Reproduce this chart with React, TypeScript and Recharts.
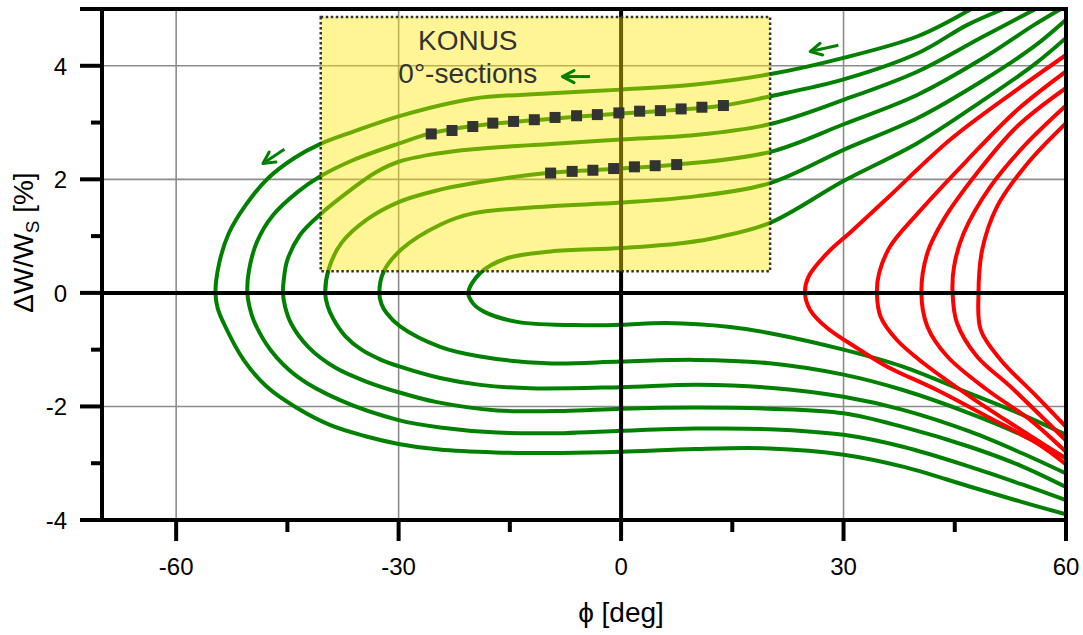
import {
  ComposedChart,
  Line,
  ReferenceArea,
  ReferenceLine,
  Scatter,
  XAxis,
  YAxis,
} from "recharts";

type Pt = [number, number];

// Dark green family, outermost first. Each curve runs from the upper right,
// round its turning point on the zero line, and out to the lower right.
const green1: Pt[] = [
  [47.2, 5.0], [40, 4.52], [30, 4.14], [20, 3.85], [10, 3.67], [0, 3.58],
  [-10, 3.51], [-20, 3.42], [-30, 3.11], [-36.1, 2.84], [-40.6, 2.62],
  [-44, 2.38], [-47.6, 2.02], [-50.6, 1.55], [-52.9, 1.05], [-54.2, 0.52],
  [-54.7, 0], [-54.4, -0.27], [-53.6, -0.53], [-50.9, -1.18], [-47.8, -1.65],
  [-43.8, -2.02], [-39.2, -2.33], [-34.6, -2.52], [-30, -2.66], [-24.5, -2.76],
  [-17, -2.81], [-8, -2.82], [0, -2.8], [10, -2.75], [20, -2.74], [30, -2.85],
  [38, -3.06], [47, -3.41], [54, -3.68], [60, -3.9],
];
const green2: Pt[] = [
  [51.6, 5.0], [46.7, 4.72], [40, 4.22], [30, 3.76], [20, 3.46], [13.8, 3.3],
  [5, 3.2], [0, 3.16], [-10, 3.06], [-20, 2.94], [-25.7, 2.81], [-30, 2.63],
  [-36.1, 2.34], [-40.6, 2.05], [-43.6, 1.78], [-47, 1.36], [-49.1, 0.9],
  [-50.2, 0.38], [-50.4, 0], [-50.1, -0.25], [-49.5, -0.5], [-47.3, -1.0],
  [-43.7, -1.47], [-37.9, -1.89], [-30, -2.24], [-24.4, -2.37],
  [-16.7, -2.46], [-7.7, -2.47], [0, -2.43], [10, -2.39], [20, -2.4],
  [30, -2.5], [38, -2.71], [47, -3.06], [54, -3.37], [60, -3.65],
];
const green3: Pt[] = [
  [55.9, 5.0], [48.9, 4.52], [40, 3.9], [30, 3.4], [20, 2.97], [10, 2.78],
  [0, 2.7], [-10, 2.62], [-20, 2.53], [-25, 2.45], [-30, 2.31],
  [-33, 2.13], [-36.1, 1.85], [-40.6, 1.38], [-43.3, 1.02], [-45.0, 0.58],
  [-45.5, 0.22], [-45.6, 0], [-45.3, -0.25], [-44.5, -0.54], [-42.2, -0.95],
  [-38.5, -1.32], [-34, -1.58], [-30, -1.75], [-25, -1.92], [-16.7, -2.07],
  [-7.7, -2.08], [0, -2.04], [10, -2.02], [20, -2.04], [30, -2.12],
  [38, -2.36], [47, -2.71], [54, -3.05], [60, -3.42],
];
const green4: Pt[] = [
  [59.3, 5.0], [55.7, 4.72], [48.9, 4.14], [40, 3.49], [30, 2.97], [20, 2.48],
  [7.6, 2.26], [0, 2.19], [-10, 2.11], [-20, 1.93], [-25, 1.8], [-30, 1.6],
  [-34.3, 1.29], [-37.7, 0.88], [-39.4, 0.43], [-39.9, 0], [-39.6, -0.22],
  [-38.8, -0.46], [-37.2, -0.76], [-35, -1.0], [-32.5, -1.17], [-29.8, -1.3],
  [-24.4, -1.5], [-19, -1.62], [-12.2, -1.68], [0, -1.66], [10.3, -1.62],
  [20, -1.67], [30, -1.83], [38, -2.06], [47, -2.44], [54, -2.82],
  [60, -3.18],
];
const green5: Pt[] = [
  [60, 4.81], [55.7, 4.34], [48.9, 3.75], [40, 3.08], [30, 2.52], [20, 1.93],
  [10, 1.7], [0, 1.59], [-10, 1.52], [-20, 1.4], [-24.4, 1.2],
  [-29.5, 0.78], [-32.0, 0.38], [-32.6, 0], [-32.3, -0.2], [-31.6, -0.36],
  [-29.8, -0.59], [-24.4, -0.95], [-19, -1.12], [-10, -1.24], [0, -1.21],
  [10, -1.18], [20, -1.24], [30, -1.44], [38, -1.71], [47, -2.12],
  [54, -2.5], [60, -2.91],
];
const green6: Pt[] = [
  [60, 4.49], [55.7, 4.02], [48.9, 3.4], [40, 2.64], [30, 1.97], [20, 1.23],
  [13.4, 0.99], [8.4, 0.88], [0, 0.79], [-9.5, 0.73], [-15.4, 0.61],
  [-19, 0.35], [-20.6, 0], [-20, -0.18], [-18.5, -0.33], [-14, -0.51],
  [-5, -0.57], [0, -0.56], [6.2, -0.53], [14.7, -0.6], [20.1, -0.71],
  [30, -1.0], [38, -1.3], [47, -1.77], [54, -2.14], [60, -2.5],
];

// Red family, leftmost turning point first.
const red1: Pt[] = [
  [60, 4.19], [53.4, 3.58], [44.4, 2.7], [36, 1.68], [31.2, 1.1],
  [27.8, 0.7], [25.3, 0.29], [24.8, 0], [25.5, -0.3], [27.8, -0.62],
  [31.8, -0.97], [35.9, -1.3], [42.6, -1.71], [49.4, -2.18], [56.1, -2.65],
  [60, -3.02],
];
const red2: Pt[] = [
  [60, 3.9], [53.4, 3.22], [46.7, 2.34], [40, 1.4], [36.3, 0.82],
  [34.8, 0.35], [34.5, 0], [35, -0.42], [37.2, -0.83], [40.8, -1.24],
  [47.1, -1.83], [53.9, -2.41], [60, -2.92],
];
const red3: Pt[] = [
  [60, 3.61], [53.4, 2.93], [48, 2.11], [43.5, 1.29], [41.3, 0.7],
  [40.5, 0], [41.3, -0.59], [44, -1.12], [49.4, -1.71], [55.2, -2.24],
  [60, -2.8],
];
const red4: Pt[] = [
  [60, 3.3], [54.3, 2.58], [49.8, 1.87], [46.2, 1.05], [44.9, 0.46],
  [44.7, 0], [45.3, -0.53], [48, -1.12], [52.5, -1.65], [60, -2.6],
];
const red5: Pt[] = [
  [60, 2.99], [54.8, 2.28], [50.7, 1.52], [48.7, 0.76], [48.2, 0],
  [48.5, -0.65], [51.2, -1.18], [56.1, -1.83], [60, -2.36],
];

// measured 0°-section points
const sectionUpper: Pt[] = [
  [-25.6, 2.8], [-22.8, 2.86], [-20.0, 2.93], [-17.3, 2.99], [-14.5, 3.02],
  [-11.7, 3.05], [-8.9, 3.09], [-6.0, 3.12], [-3.2, 3.14], [-0.3, 3.17],
  [2.5, 3.2], [5.3, 3.21], [8.1, 3.24], [10.9, 3.27], [13.8, 3.3],
];
const sectionLower: Pt[] = [
  [-9.5, 2.11], [-6.6, 2.14], [-3.8, 2.16], [-1.0, 2.19], [1.8, 2.22],
  [4.6, 2.24], [7.5, 2.26],
];

// direction arrows: tail, tip
const arrowLeft: Pt[] = [[-45.4, 2.53], [-48.3, 2.28]];
const arrowMid: Pt[] = [[-4.2, 3.81], [-7.9, 3.81]];
const arrowRight: Pt[] = [[29.3, 4.36], [25.5, 4.25]];

// KONUS window: phi from, phi to, dW from, dW to
const konusWindow = [-40.5, 20.1, 0.38, 4.86];

const xTicks = [-60, -45, -30, -15, 0, 15, 30, 45, 60];
const yTicks = [-4, -3, -2, -1, 0, 1, 2, 3, 4, 5];
const gridX = [-60, -30, 30];
const gridY = [-2, 2, 4];

const GREEN = "#008000";
const RED = "#ff0000";
const AXIS_W = 4;
const CURVE_W = 4;

const rows = (pts: Pt[]) => pts.map(([x, y]) => ({ x, y }));

const greens = [green1, green2, green3, green4, green5, green6];
const reds = [red1, red2, red3, red4, red5];
const arrows = [arrowLeft, arrowMid, arrowRight];

// centripetal Catmull-Rom, so the curves can bend back on themselves
// (x is not monotonic along a curve) without overshooting
function catmullRom(context: any) {
  let pts: Pt[] = [];
  return {
    areaStart() {},
    areaEnd() {},
    lineStart() {
      pts = [];
    },
    point(x: number, y: number) {
      pts.push([+x, +y]);
    },
    lineEnd() {
      if (!pts.length) return;
      context.moveTo(pts[0][0], pts[0][1]);
      const dist = (a: Pt, b: Pt) => Math.hypot(b[0] - a[0], b[1] - a[1]);
      for (let i = 0; i < pts.length - 1; i++) {
        const p0 = i > 0 ? pts[i - 1] : null;
        const p1 = pts[i];
        const p2 = pts[i + 1];
        const p3 = i + 2 < pts.length ? pts[i + 2] : null;
        const l12 = dist(p1, p2);
        const l12a = Math.sqrt(l12);
        let c1: Pt = [p1[0], p1[1]];
        let c2: Pt = [p2[0], p2[1]];
        if (p0) {
          const l01 = dist(p0, p1);
          const l01a = Math.sqrt(l01);
          if (l01a > 1e-6) {
            const a = 2 * l01 + 3 * l01a * l12a + l12;
            const n = 3 * l01a * (l01a + l12a);
            c1 = [
              (p1[0] * a - p0[0] * l12 + p2[0] * l01) / n,
              (p1[1] * a - p0[1] * l12 + p2[1] * l01) / n,
            ];
          }
        }
        if (p3) {
          const l23 = dist(p2, p3);
          const l23a = Math.sqrt(l23);
          if (l23a > 1e-6) {
            const b = 2 * l23 + 3 * l23a * l12a + l12;
            const m = 3 * l23a * (l23a + l12a);
            c2 = [
              (p2[0] * b + p1[0] * l23 - p3[0] * l12) / m,
              (p2[1] * b + p1[1] * l23 - p3[1] * l12) / m,
            ];
          }
        }
        context.bezierCurveTo(c1[0], c1[1], c2[0], c2[1], p2[0], p2[1]);
      }
    },
  };
}

function XTick(props: any) {
  const { x, y, payload } = props;
  const v = payload.value as number;
  const major = v % 30 === 0;
  return (
    <g>
      <line x1={x} y1={y} x2={x} y2={y + (major ? 21 : 12)} stroke="#000" strokeWidth={AXIS_W} />
      {major && (
        <text x={x} y={y + 55} textAnchor="middle" fontSize={24} fill="#000">
          {v}
        </text>
      )}
    </g>
  );
}

function YTick(props: any) {
  const { x, y, payload } = props;
  const v = payload.value as number;
  const labelled = v % 2 === 0 && v !== 5;
  const major = labelled || v === 5;
  return (
    <g>
      <line x1={x} y1={y} x2={x - (major ? 22 : 11)} y2={y} stroke="#000" strokeWidth={AXIS_W} />
      {labelled && (
        <text x={x - 35} y={y + 9} textAnchor="end" fontSize={24} fill="#000">
          {v}
        </text>
      )}
    </g>
  );
}

function YTitle(props: any) {
  const { viewBox } = props;
  const cx = viewBox.x + 33;
  const cy = viewBox.y + 233.5;
  return (
    <text
      transform={`translate(${cx},${cy}) rotate(-90)`}
      textAnchor="middle"
      fontSize={28}
      fill="#000"
    >
      ΔW/W<tspan dy={6} fontSize={19}>S</tspan>
      <tspan dy={-6}> [%]</tspan>
    </text>
  );
}

function XTitle(props: any) {
  const { viewBox } = props;
  return (
    <text x={viewBox.x + 519} y={viewBox.y + 102} textAnchor="middle" fontSize={28} fill="#000">
      ϕ [deg]
    </text>
  );
}

function WindowText(props: any) {
  const { x, y } = props.viewBox;
  return (
    <g fill="#333" fontSize={28}>
      <text x={x + 147} y={y + 33} textAnchor="middle">
        KONUS
      </text>
      <text x={x + 147} y={y + 66} textAnchor="middle">
        0°-sections
      </text>
    </g>
  );
}

function SectionSquare(props: any) {
  const { cx, cy } = props;
  return <rect x={cx - 5.5} y={cy - 5.5} width={11} height={11} fill="#333" />;
}

function ArrowHead(props: any) {
  const { index, points, cx, cy } = props;
  if (!points || index !== points.length - 1) return <g key={`ah-${index}`} />;
  const prev = points[index - 1];
  const ang = Math.atan2(cy - prev.y, cx - prev.x);
  const len = 13;
  const spread = 0.48;
  const a1 = ang + Math.PI - spread;
  const a2 = ang + Math.PI + spread;
  const d = `M${cx + len * Math.cos(a1)},${cy + len * Math.sin(a1)} L${cx},${cy} L${
    cx + len * Math.cos(a2)
  },${cy + len * Math.sin(a2)}`;
  return (
    <path
      key={`ah-${index}`}
      d={d}
      fill="none"
      stroke={GREEN}
      strokeWidth={3}
      strokeLinecap="round"
      strokeLinejoin="round"
    />
  );
}

export default function App() {
  return (
    <div
      style={{
        position: "absolute",
        left: 0,
        top: 0,
        width: 1083,
        height: 635,
        background: "#fff",
        fontFamily: "'Liberation Sans', Arial, sans-serif",
      }}
    >
      <ComposedChart width={1083} height={635} margin={{ top: 9, right: 17, bottom: 0, left: 0 }}>
        <XAxis
          type="number"
          dataKey="x"
          domain={[-70, 60]}
          ticks={xTicks}
          interval={0}
          allowDataOverflow
          tickSize={0}
          tickMargin={0}
          tickLine={false}
          tick={<XTick />}
          axisLine={{ stroke: "#000", strokeWidth: AXIS_W }}
          height={115}
          label={XTitle}
        />
        <YAxis
          type="number"
          dataKey="y"
          domain={[-4, 5]}
          ticks={yTicks}
          interval={0}
          allowDataOverflow
          tickSize={0}
          tickMargin={0}
          tickLine={false}
          tick={<YTick />}
          axisLine={{ stroke: "#000", strokeWidth: AXIS_W }}
          width={102}
          label={YTitle}
        />

        {gridX.map((v) => (
          <ReferenceLine key={`gx${v}`} x={v} stroke="#8c8c8c" strokeWidth={1.6} zIndex={100} />
        ))}
        {gridY.map((v) => (
          <ReferenceLine key={`gy${v}`} y={v} stroke="#8c8c8c" strokeWidth={1.6} zIndex={100} />
        ))}

        {greens.map((c, i) => (
          <Line
            key={`g${i}`}
            data={rows(c)}
            dataKey="y"
            type={catmullRom as any}
            stroke={GREEN}
            strokeWidth={CURVE_W}
            dot={false}
            activeDot={false}
            isAnimationActive={false}
            zIndex={400}
          />
        ))}
        {reds.map((c, i) => (
          <Line
            key={`r${i}`}
            data={rows(c)}
            dataKey="y"
            type={catmullRom as any}
            stroke={RED}
            strokeWidth={CURVE_W}
            dot={false}
            activeDot={false}
            isAnimationActive={false}
            zIndex={410}
          />
        ))}

        <ReferenceLine x={0} stroke="#000" strokeWidth={AXIS_W} zIndex={450} />
        <ReferenceLine y={0} stroke="#000" strokeWidth={AXIS_W} zIndex={450} />

        <ReferenceArea
          x1={konusWindow[0]}
          x2={konusWindow[1]}
          y1={konusWindow[2]}
          y2={konusWindow[3]}
          fill="#ffe600"
          fillOpacity={0.42}
          stroke="#333"
          strokeWidth={2.5}
          strokeDasharray="2.5 2.5"
          zIndex={480}
          label={WindowText}
        />

        <Scatter data={rows(sectionUpper)} shape={<SectionSquare />} isAnimationActive={false} zIndex={600} />
        <Scatter data={rows(sectionLower)} shape={<SectionSquare />} isAnimationActive={false} zIndex={600} />

        {arrows.map((a, i) => (
          <Line
            key={`a${i}`}
            data={rows(a)}
            dataKey="y"
            type="linear"
            stroke={GREEN}
            strokeWidth={3}
            dot={ArrowHead}
            activeDot={false}
            isAnimationActive={false}
            zIndex={650}
          />
        ))}

        <ReferenceLine y={5} stroke="#000" strokeWidth={AXIS_W} strokeLinecap="square" zIndex={700} />
        <ReferenceLine x={60} stroke="#000" strokeWidth={AXIS_W} strokeLinecap="square" zIndex={700} />
      </ComposedChart>
    </div>
  );
}
